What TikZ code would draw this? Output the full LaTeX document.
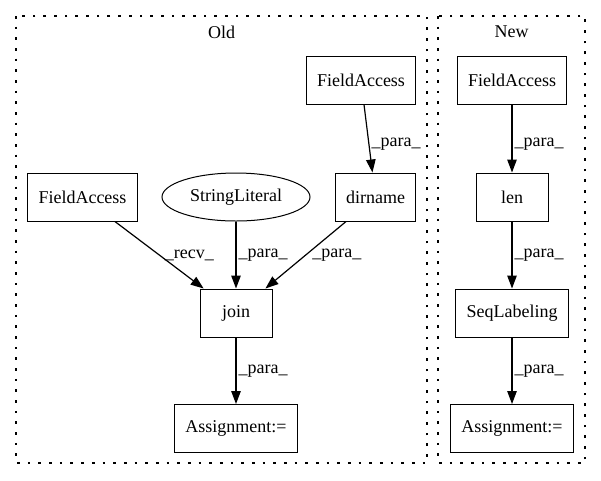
\documentclass[tikz,border=0pt]{standalone}
\usepackage{fontspec}
\setmainfont{Liberation Serif}
\usetikzlibrary{arrows.meta,shapes.geometric,positioning}

\begin{document}
\begin{tikzpicture}[x=1pt,y=-1pt,
	every node/.style={font=\fontsize{18pt}{22pt}\selectfont},
	box/.style={shape=rectangle,draw,line width=1pt,minimum width=72pt,minimum height=48pt,inner xsep=10.67pt,inner ysep=0pt},
	oval/.style={shape=ellipse,draw,line width=1pt,minimum width=148pt,minimum height=48pt,inner sep=0pt},
	cluster/.style={draw,line width=1.33pt,dash pattern=on 2.67pt off 8pt},
	edge/.style={draw,line width=1.2pt,-{Triangle[length=13pt,width=9.5pt]}},
	lbl/.style={anchor=west,inner sep=2pt}]
	\useasboundingbox (0,0) rectangle (601,480);
	\draw[cluster] (16,16) rectangle (427,463);
	\draw[cluster] (438,16) rectangle (585,463);
	\path (221.5,32) node (old) {Old}
		  (511.5,32) node (new) {New};
	\path (361,80.5) node (fa) [box] {FieldAccess}
		  (82.5,197) node (recv) [box] {FieldAccess}
		  (236,197) node (str) [oval] {StringLiteral}
		  (375.5,197) node (dirname) [box] {dirname}
		  (236,313) node (join) [box] {join}
		  (236,428.5) node (asgold) [box] {Assignment:=};
	\path (512,80.5) node (fanew) [box] {FieldAccess}
		  (512,197) node (len) [box] {len}
		  (512,313) node (seq) [box] {SeqLabeling}
		  (512,428.5) node (asgnew) [box] {Assignment:=};
	\draw[edge] (fa) -- node[lbl,pos=0.58] {\_para\_} (dirname);
	\draw[edge] (recv) -- node[lbl,pos=0.5,xshift=3pt] {\_recv\_} (join);
	\draw[edge] (str) -- node[lbl,pos=0.5] {\_para\_} (join);
	\draw[edge] (dirname) -- node[lbl,pos=0.5,xshift=4pt] {\_para\_} (join);
	\draw[edge] (join) -- node[lbl,pos=0.5] {\_para\_} (asgold);
	\draw[edge] (fanew) -- node[lbl,pos=0.58] {\_para\_} (len);
	\draw[edge] (len) -- node[lbl,pos=0.5] {\_para\_} (seq);
	\draw[edge] (seq) -- node[lbl,pos=0.5] {\_para\_} (asgnew);
\end{tikzpicture}
\end{document}
